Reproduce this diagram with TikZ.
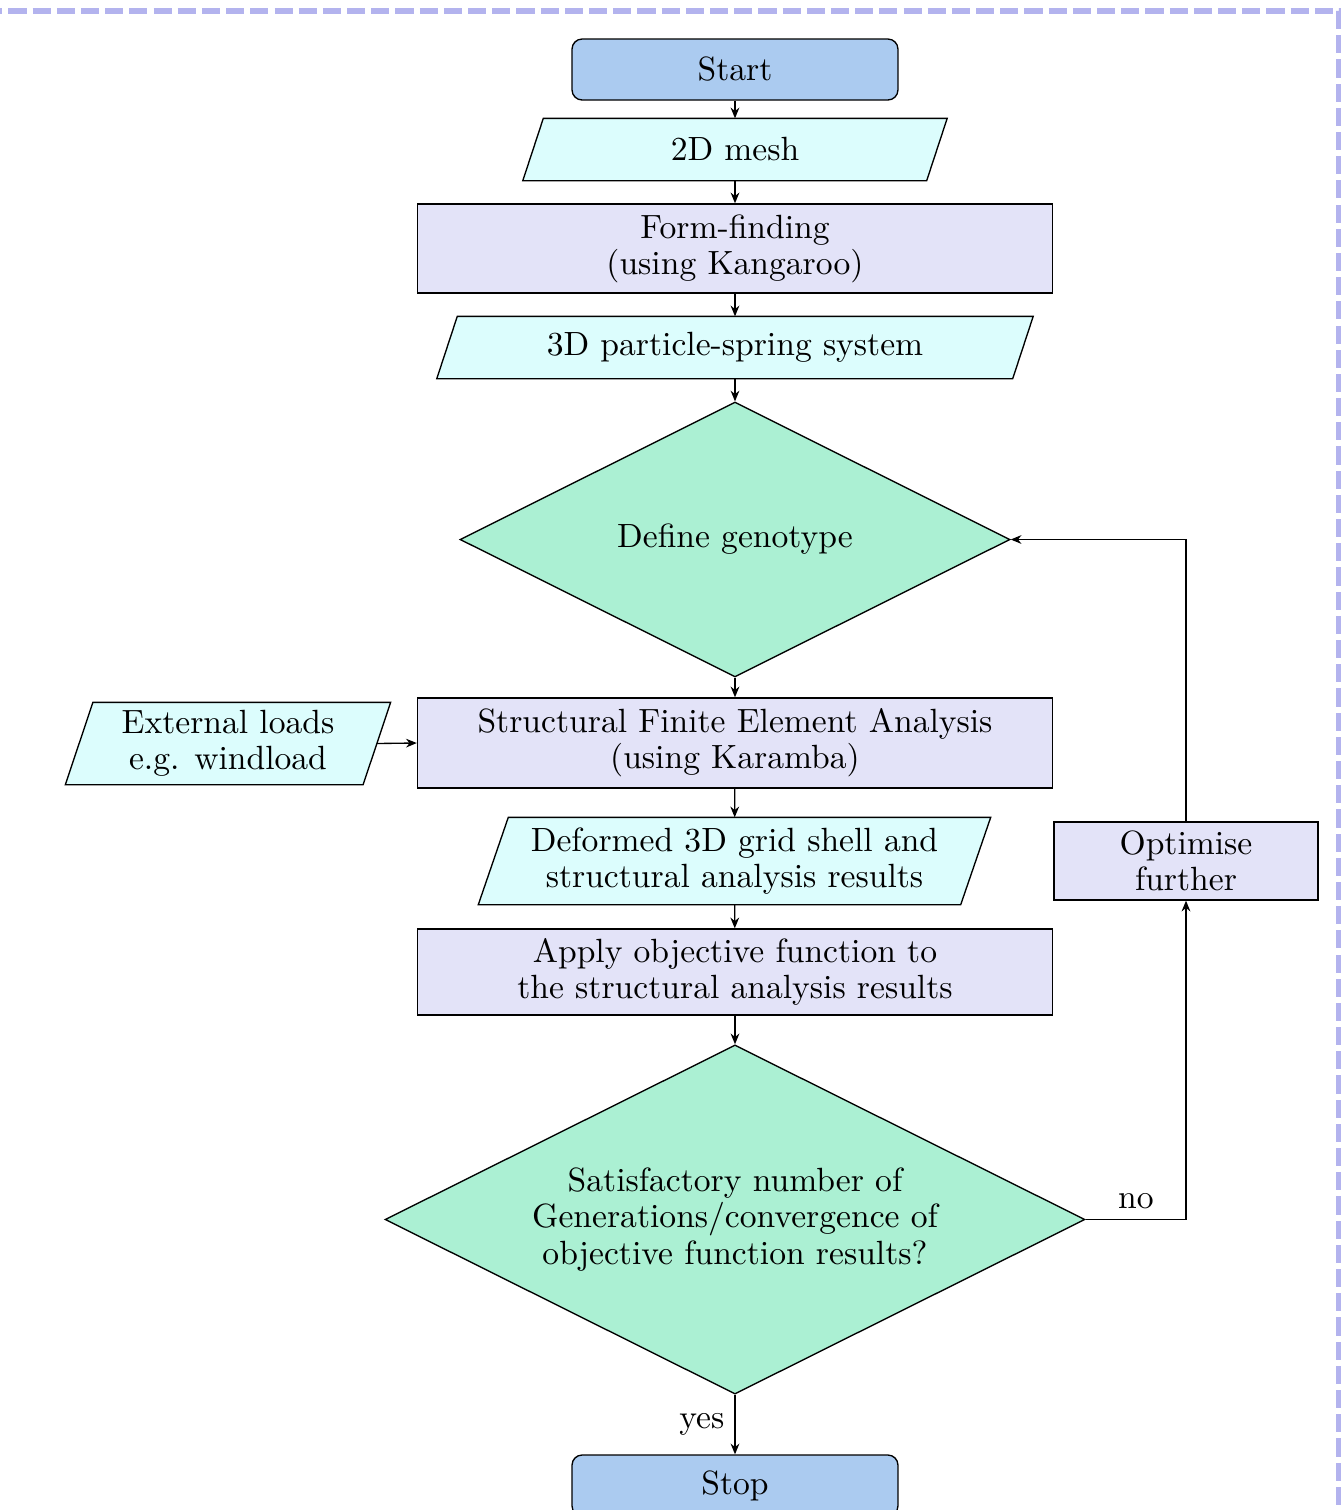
\documentclass[tikz,border=0pt]{standalone}
\usetikzlibrary{shapes.geometric,arrows.meta,calc,backgrounds}
\definecolor{termfill}{HTML}{ABCBF0}
\definecolor{iofill}{HTML}{DCFDFD}
\definecolor{procfill}{HTML}{E3E3F8}
\definecolor{decfill}{HTML}{ABF0D3}
\definecolor{bordercol}{HTML}{B3B3EE}
\tikzset{
  every node/.style={font=\fontsize{10}{10.8}\selectfont, align=center, inner sep=0pt},
  termbox/.style={draw, fill=termfill, rounded corners=3pt, minimum width=97pt, minimum height=18.15pt},
  procbox/.style={draw, fill=procfill, minimum width=189pt, minimum height=26.5pt},
  iobox/.style={rectangle},
  iopath/.style={draw, fill=iofill, line width=0.4pt},
  decbox/.style={draw, fill=decfill, diamond, aspect=2},
  arr/.style={draw, line width=0.4pt, -{Stealth[length=3.2pt,width=2.6pt]}},
  framebox/.style={draw=bordercol, line width=1.5pt, dash pattern=on 5.4pt off 1.8pt}
}
\newcommand{\ioshape}[2]{%
  \filldraw[iopath] ($(#1.north west)+(#2,0)$) -- (#1.north east) -- ($(#1.south east)-(#2,0)$) -- (#1.south west) -- cycle;}
\begin{document}
\begin{tikzpicture}[x=0.2976pt, y=-0.2976pt]
\useasboundingbox (0,0) rectangle (1341,1510);
\clip (0,0) rectangle (1341,1510);
\draw[framebox] (-40,11) -- (1339,11) -- (1339,1700);

\node[termbox] (start) at (735,69.5) {Start};
\node[iobox, minimum width=125.9pt, minimum height=18.15pt] (mesh) at (735,149.5) {2D mesh};
\node[procbox] (form) at (735,248.5) {Form-finding\\(using Kangaroo)};
\node[iobox, minimum width=177.1pt, minimum height=18.15pt] (psys) at (735,347.5) {3D particle-spring system};
\node[decbox, minimum width=163.7pt, minimum height=81.8pt] (geno) at (735,539.5) {Define genotype};
\node[procbox, minimum height=26.8pt] (fea) at (735,743) {Structural Finite Element Analysis\\(using Karamba)};
\node[iobox, minimum width=96.4pt, minimum height=24.1pt] (ext) at (228,743.5) {External loads\\e.g. windload};
\node[iobox, minimum width=152.1pt, minimum height=25.6pt] (def) at (734.5,861) {Deformed 3D grid shell and\\structural analysis results};
\node[procbox, minimum height=25.6pt] (apply) at (735,972) {Apply objective function to\\the structural analysis results};
\node[decbox, minimum width=208.3pt, minimum height=103.9pt] (sat) at (735,1219.5) {Satisfactory number of\\Generations/convergence of\\objective function results?};
\node[termbox] (stop) at (735,1485.5) {Stop};
\node[procbox, minimum width=78.6pt, minimum height=23.2pt] (opt) at (1186,861) {Optimise\\further};

\begin{scope}[on background layer]
  \ioshape{mesh}{20.5}
  \ioshape{psys}{20.5}
  \ioshape{ext}{27.5}
  \ioshape{def}{30}
\end{scope}
\coordinate (extr) at ($(ext.east)+(-13.75,0)$);

\draw[arr] (start) -- (mesh);
\draw[arr] (mesh) -- (form);
\draw[arr] (form) -- (psys);
\draw[arr] (psys) -- (geno);
\draw[arr] (geno) -- (fea);
\draw[arr] (extr) -- (fea.west);
\draw[arr] (fea) -- (def);
\draw[arr] (def) -- (apply);
\draw[arr] (apply) -- (sat);
\draw[arr] (sat.south) -- node[left, inner sep=3pt] {yes} (stop.north);
\draw[arr] (sat.east) -| node[pos=0.25, above, inner sep=3pt] {no} (opt.south);
\draw[arr] (opt.north) |- (geno.east);
\end{tikzpicture}
\end{document}
